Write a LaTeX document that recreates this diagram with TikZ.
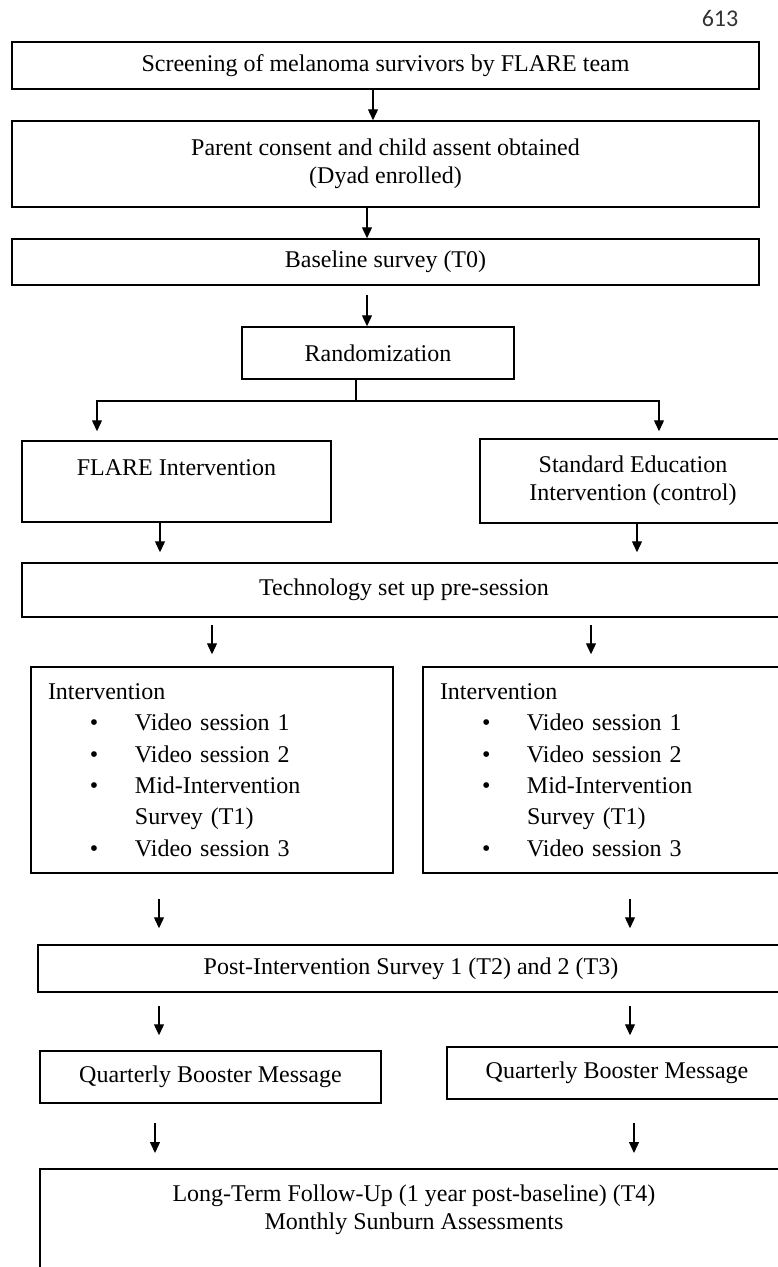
\documentclass[tikz,border=0pt]{standalone}
\usepackage{fontspec}
\setmainfont{Liberation Serif}
\newfontfamily\pagefont{Carlito}
\usetikzlibrary{arrows.meta,calc}

\newcommand{\sessionitem}[1]{\hspace*{42pt}\makebox[45pt][l]{\textbullet}#1}
\newcommand{\sessionmore}[1]{\hspace*{87pt}#1}
\newcommand{\sessionlist}{Intervention\\
  \sessionitem{Video session 1}\\
  \sessionitem{Video session 2}\\
  \sessionitem{Mid-Intervention}\\
  \sessionmore{Survey (T1)}\\
  \sessionitem{Video session 3}}

\begin{document}
\begin{tikzpicture}[
    x=1pt, y=-1pt,
    font=\fontsize{24}{28}\selectfont,
    block/.style={draw, line width=1.5pt, align=center, inner sep=0pt},
    listbox/.style={block, align=left, text width=328pt, inner xsep=17pt, minimum height=206pt, font=\fontsize{24}{31.4}\selectfont},
    arrow/.style={-{Triangle[length=11pt,width=10pt]}, line width=1.3pt}
]
\useasboundingbox (0,0) rectangle (778,1267);
\clip (0,0) rectangle (778,1267);

\node[font=\pagefont\fontsize{24}{28}\selectfont, text=black!80] (page) at (720,18) {613};

\node[block, minimum width=747pt, minimum height=47pt] (screen) at (385.5,65.5) {Screening of melanoma survivors by FLARE team};
\node[block, minimum width=747pt, minimum height=86pt] (consent) at (385.5,164) {Parent consent and child assent obtained\\(Dyad enrolled)};
\node[block, minimum width=747pt, minimum height=46pt] (base) at (385.5,262) {Baseline survey (T0)};
\node[block, minimum width=272pt, minimum height=52pt] (rand) at (378,353) {Randomization};

\node[block, minimum width=309pt, minimum height=81pt] (flare) at (176.5,481.5) {FLARE Intervention\\ \mbox{}};
\node[block, minimum width=306pt, minimum height=84pt] (std) at (633,481) {Standard Education\\Intervention (control)};
\node[block, minimum width=764pt, minimum height=54pt] (tech) at (404,590) {Technology set up pre-session};

\node[listbox] (intL) at (212,770) {\sessionlist};
\node[listbox] (intR) at (604,770) {\sessionlist};

\node[block, minimum width=746pt, minimum height=47pt] (post) at (411,968.5) {Post-Intervention Survey 1 (T2) and 2 (T3)};
\node[block, minimum width=341pt, minimum height=52pt] (qbmL) at (210.5,1077) {Quarterly Booster Message};
\node[block, minimum width=340pt, minimum height=52pt] (qbmR) at (617,1073) {Quarterly Booster Message};
\node[block, anchor=north, minimum width=748pt, inner ysep=16pt, text depth=110pt] (lt) at (414,1168) {Long-Term Follow-Up (1 year post-baseline) (T4)\\Monthly Sunburn Assessments};

% straight arrows: from/to/x/gap at start/gap at end
\foreach \a/\b/\x/\s/\e in {screen/consent/373/0/0, consent/base/367/0/0, base/rand/367/9/0,
    flare/tech/160/0/10, std/tech/637/0/10,
    tech/intL/212/7/12, tech/intR/591/7/12,
    intL/post/159/25/16, intR/post/630/25/16,
    post/qbmL/159/13/15, post/qbmR/630/13/11,
    qbmL/lt/155/19/15, qbmR/lt/634/23/15}
  \draw[arrow, shorten <=\s pt, shorten >=\e pt] (\a.south -| \x,0) -- (\b.north -| \x,0);

% randomization split
\coordinate (split) at (356,401);
\draw[line width=1.3pt] (rand.south -| split) -- (split);
\draw[arrow, shorten >=9pt] (split) -| (flare.north -| 97,0);
\draw[arrow, shorten >=7pt] (split) -| (std.north -| 659,0);
\end{tikzpicture}
\end{document}
